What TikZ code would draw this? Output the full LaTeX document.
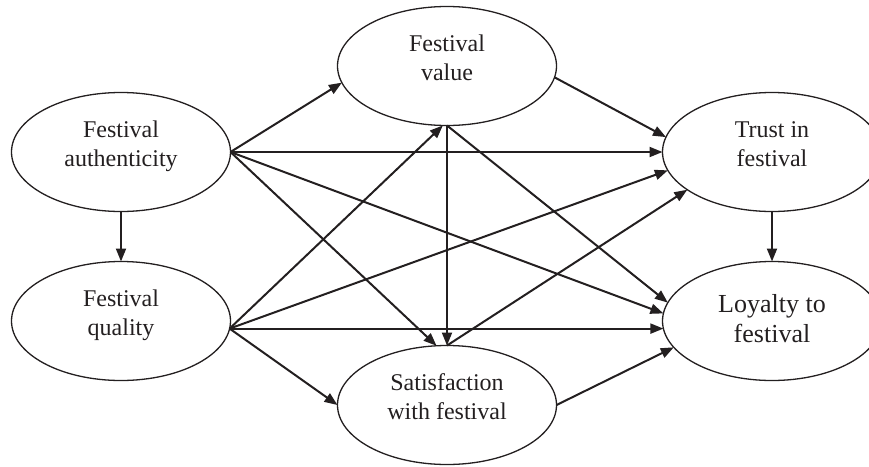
\documentclass[tikz,border=0pt]{standalone}
\usepackage{fontspec}
\setmainfont{Liberation Serif}
\usetikzlibrary{shapes.geometric,arrows.meta}
\definecolor{ink}{RGB}{35,31,32}
\begin{document}
\begin{tikzpicture}[x=1pt,y=-1pt,
  ell/.style={draw=ink,line width=1.3pt,ellipse,minimum width=219pt,minimum height=119pt,inner sep=0pt,outer sep=0pt},
  lbl/.style={text=ink,align=center,inner sep=0pt,font=\fontsize{24}{28.5}\selectfont,yshift=5.7pt},
  lblb/.style={text=ink,align=center,inner sep=0pt,font=\fontsize{26}{30}\selectfont},
  arr/.style={draw=ink,line width=2pt,-{Triangle[length=13pt,width=10pt]}}]
\useasboundingbox (0,0) rectangle (869,466);
\clip (0,0) rectangle (869,466);

\node[ell] (auth)  at (121,152) {};
\node[ell] (qual)  at (121,321) {};
\node[ell] (val)   at (447,66)  {};
\node[ell] (sat)   at (447,405) {};
\node[ell] (trust) at (772,152) {};
\node[ell] (loy)   at (772,321) {};

\node[lbl]  (authT)  at (auth.center)  {\strut Festival\\authenticity\strut};
\node[lbl]  (qualT)  at (qual.center)  {\strut Festival\\quality\strut};
\node[lbl]  (valT)   at (val.center)   {\strut Festival\\value\strut};
\node[lbl]  (satT)   at (sat.center)   {\strut Satisfaction\\with festival\strut};
\node[lbl]  (trustT) at (trust.center) {\strut Trust in\\festival\strut};
\node[lblb] (loyT)   at (loy.center)   {\strut Loyalty to\\festival\strut};

\draw[arr] (auth.south) -- (qual.north);
\draw[arr] (auth.east) -- (val.189);
\draw[arr] (auth.east) -- (trust.west);
\draw[arr] (auth.east) -- (loy.176);
\draw[arr] (auth.east) -- (sat.100);
\draw[arr] (val.-6) -- (trust.172);
\draw[arr] (val.south) -- (sat.north);
\draw[arr] (val.south) -- (loy.170);
\draw[arr] (qual.-4) -- (val.266);
\draw[arr] (qual.-4) -- (trust.190);
\draw[arr] (qual.-4) -- (loy.184);
\draw[arr] (qual.-4) -- (sat.west);
\draw[arr] (sat.north) -- (trust.204);
\draw[arr] (sat.east) -- (loy.195);
\draw[arr] (trust.south) -- (loy.north);
\end{tikzpicture}
\end{document}
